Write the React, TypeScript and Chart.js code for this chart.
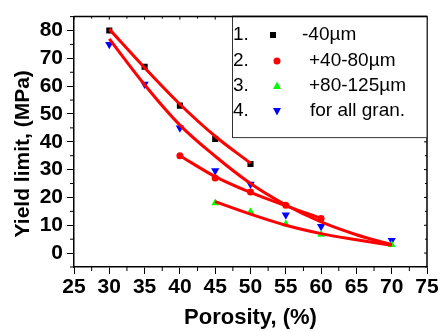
import React, { useEffect, useRef } from "react";
import { Chart, registerables } from "chart.js";

Chart.register(...registerables);

// ---- data ----
const xTickValues = [25, 30, 35, 40, 45, 50, 55, 60, 65, 70, 75];
const yTickValues = [0, 10, 20, 30, 40, 50, 60, 70, 80];

const s1X = [30, 35, 40, 45, 50];
const s1Y = [80, 67, 53, 41, 32];

const s2X = [40, 45, 50, 55, 60];
const s2Y = [35, 27, 22, 17.2, 12.4];

const s3X = [45, 50, 55, 60, 70];
const s3Y = [18, 14.9, 10.5, 6.7, 3];

const s4X = [30, 35, 40, 45, 50, 55, 60, 70];
const s4Y = [75, 60.7, 45, 29.6, 24.8, 13.7, 9.6, 4.6];

// fitted curves (red)
const f1X = [30, 35, 40, 45, 50];
const f1Y = [80.5, 66.6, 53.5, 42, 32.3];
const f2X = [40, 45, 50, 55, 60];
const f2Y = [35, 27.5, 21.8, 17, 12.5];
const f3X = [45, 50, 55, 60, 65, 70];
const f3Y = [18.5, 14, 10, 7, 4.8, 2.8];
const f4X = [30, 35, 40, 45, 50, 55, 60, 65, 70];
const f4Y = [77, 60.5, 46, 34.8, 25, 17.3, 11.2, 6.6, 3];

const legendNums = ["1.", "2.", "3.", "4."];
const legendLabels = ["-40\u00b5m", "+40-80\u00b5m", "+80-125\u00b5m", "for all gran."];

const xTitle = "Porosity, (%)";
const yTitle = "Yield limit, (MPa)";

const zip = (xs: number[], ys: number[]) => xs.map((x, i) => ({ x, y: ys[i] }));

function drawMarker(ctx: CanvasRenderingContext2D, kind: number, x: number, y: number) {
  ctx.save();
  ctx.beginPath();
  if (kind === 0) {
    ctx.fillStyle = "#000";
    ctx.fillRect(x - 3, y - 3, 6, 6);
  } else if (kind === 1) {
    ctx.fillStyle = "#ff0000";
    ctx.arc(x, y, 3.5, 0, Math.PI * 2);
    ctx.fill();
  } else if (kind === 2) {
    ctx.fillStyle = "#00ff00";
    ctx.moveTo(x, y - 4.5);
    ctx.lineTo(x + 4, y + 3);
    ctx.lineTo(x - 4, y + 3);
    ctx.closePath();
    ctx.fill();
  } else {
    ctx.fillStyle = "#0000ff";
    ctx.moveTo(x, y + 4.5);
    ctx.lineTo(x + 4, y - 3);
    ctx.lineTo(x - 4, y - 3);
    ctx.closePath();
    ctx.fill();
  }
  ctx.restore();
}

const framePlugin = {
  id: "frame",
  afterDraw(chart: any) {
    const ctx: CanvasRenderingContext2D = chart.ctx;
    const { left, right, top, bottom } = chart.chartArea;
    const xs = chart.scales.x;
    const ys = chart.scales.y;
    ctx.save();
    ctx.strokeStyle = "#000";
    ctx.lineWidth = 1.5;
    // top and right frame
    ctx.beginPath();
    ctx.moveTo(left, top);
    ctx.lineTo(right, top);
    ctx.lineTo(right, bottom);
    ctx.stroke();
    ctx.lineWidth = 1;
    // minor ticks (outer) and inner ticks on top/right
    for (let v = 25; v <= 75; v += 2.5) {
      const px = xs.getPixelForValue(v);
      const major = v % 5 === 0;
      if (!major) {
        ctx.beginPath();
        ctx.moveTo(px, bottom);
        ctx.lineTo(px, bottom + 4);
        ctx.stroke();
      }
      ctx.beginPath();
      ctx.moveTo(px, top);
      ctx.lineTo(px, top + (major ? 3 : 2));
      ctx.stroke();
    }
    for (let v = -5; v <= 85; v += 5) {
      const py = ys.getPixelForValue(v);
      const major = v % 10 === 0;
      if (!major) {
        ctx.beginPath();
        ctx.moveTo(left, py);
        ctx.lineTo(left - 4, py);
        ctx.stroke();
      }
      ctx.beginPath();
      ctx.moveTo(right, py);
      ctx.lineTo(right - (major ? 3 : 2), py);
      ctx.stroke();
    }
    // y title
    ctx.fillStyle = "#000";
    ctx.font = "bold 21px 'Liberation Sans', Arial, sans-serif";
    ctx.textAlign = "center";
    ctx.textBaseline = "middle";
    ctx.translate(23, (top + bottom) / 2 + 12);
    ctx.rotate(-Math.PI / 2);
    ctx.fillText(yTitle, 0, 0);
    ctx.restore();

    // legend box
    ctx.save();
    const lx = 232;
    const ly = top;
    const lw = right - lx;
    const lh = 121;
    ctx.fillStyle = "#fff";
    ctx.fillRect(lx, ly, lw, lh);
    ctx.strokeStyle = "#333";
    ctx.lineWidth = 1;
    ctx.strokeRect(lx + 0.5, ly, lw - 0.5, lh);
    ctx.strokeStyle = "#000";
    ctx.lineWidth = 1.5;
    ctx.beginPath();
    ctx.moveTo(lx, top);
    ctx.lineTo(right, top);
    ctx.stroke();
    ctx.font = "19px 'Liberation Sans', Arial, sans-serif";
    ctx.textBaseline = "middle";
    ctx.fillStyle = "#000";
    const rowY = [35, 61, 86, 111];
    const textX = [302, 309, 309, 310];
    const markX = [273, 277, 277, 277];
    legendLabels.forEach((lab, i) => {
      ctx.textAlign = "left";
      ctx.fillText(legendNums[i], 233, rowY[i]);
      ctx.fillText(lab, textX[i], rowY[i]);
      drawMarker(ctx, i, markX[i], rowY[i]);
    });
    ctx.restore();
  },
};

export default function App() {
  const ref = useRef<HTMLCanvasElement | null>(null);
  useEffect(() => {
    if (!ref.current) return;
    const fitStyle = {
      borderColor: "#ff0000",
      borderWidth: 3,
      pointRadius: 0,
      showLine: true,
      fill: false,
      cubicInterpolationMode: "monotone" as const,
      order: 0,
    };
    const chart = new Chart(ref.current, {
      type: "line",
      data: {
        datasets: [
          { label: "fit1", data: zip(f1X, f1Y), ...fitStyle },
          { label: "fit2", data: zip(f2X, f2Y), ...fitStyle },
          { label: "fit3", data: zip(f3X, f3Y), ...fitStyle },
          { label: "fit4", data: zip(f4X, f4Y), ...fitStyle },
          {
            label: legendLabels[0],
            data: zip(s1X, s1Y),
            showLine: false,
            pointStyle: "rect",
            pointRadius: 4.3,
            backgroundColor: "#000",
            borderColor: "#000",
            borderWidth: 0,
            order: 1,
          },
          {
            label: legendLabels[1],
            data: zip(s2X, s2Y),
            showLine: false,
            pointStyle: "circle",
            pointRadius: 3.5,
            backgroundColor: "#ff0000",
            borderColor: "#ff0000",
            borderWidth: 0,
            order: 1,
          },
          {
            label: legendLabels[2],
            data: zip(s3X, s3Y),
            showLine: false,
            pointStyle: "triangle",
            pointRadius: 4.5,
            backgroundColor: "#00ff00",
            borderColor: "#00ff00",
            borderWidth: 0,
            order: 1,
          },
          {
            label: legendLabels[3],
            data: zip(s4X, s4Y),
            showLine: false,
            pointStyle: "triangle",
            pointRotation: 180,
            pointRadius: 4.8,
            backgroundColor: "#0000ff",
            borderColor: "#0000ff",
            borderWidth: 0,
            order: 1,
          },
        ],
      },
      options: {
        responsive: false,
        animation: false,
        devicePixelRatio: 1,
        layout: { padding: { top: 12, right: 14, left: 0, bottom: 0 } },
        plugins: { legend: { display: false }, tooltip: { enabled: false } },
        scales: {
          x: {
            type: "linear",
            min: 25,
            max: 75,
            afterBuildTicks: (s: any) => {
              s.ticks = xTickValues.map((v) => ({ value: v }));
            },
            afterFit: (s: any) => {
              s.height = 64;
            },
            ticks: {
              autoSkip: false,
              maxRotation: 0,
              color: "#000",
              padding: 1,
              font: { family: "'Liberation Sans', Arial, sans-serif", weight: "bold", size: 21 },
            },
            grid: { drawOnChartArea: false, tickLength: 7, color: "#000", lineWidth: 1 },
            border: { color: "#000", width: 1.5 },
            title: {
              display: true,
              text: xTitle,
              color: "#000",
              padding: { top: 0, bottom: 0 },
              font: { family: "'Liberation Sans', Arial, sans-serif", weight: "bold", size: 22 },
            },
          },
          y: {
            type: "linear",
            min: -5,
            max: 85,
            afterBuildTicks: (s: any) => {
              s.ticks = yTickValues.map((v) => ({ value: v }));
            },
            afterFit: (s: any) => {
              s.width = 74;
            },
            ticks: {
              color: "#000",
              padding: 4,
              font: { family: "'Liberation Sans', Arial, sans-serif", weight: "bold", size: 21 },
            },
            grid: { drawOnChartArea: false, tickLength: 7, color: "#000", lineWidth: 1 },
            border: { color: "#000", width: 1.5 },
          },
        },
      },
      plugins: [framePlugin],
    });
    return () => chart.destroy();
  }, []);
  return (
    <div style={{ position: "absolute", left: 0, top: 0, width: 441, height: 331, background: "#fff" }}>
      <canvas ref={ref} width={441} height={331} style={{ display: "block" }} />
    </div>
  );
}
